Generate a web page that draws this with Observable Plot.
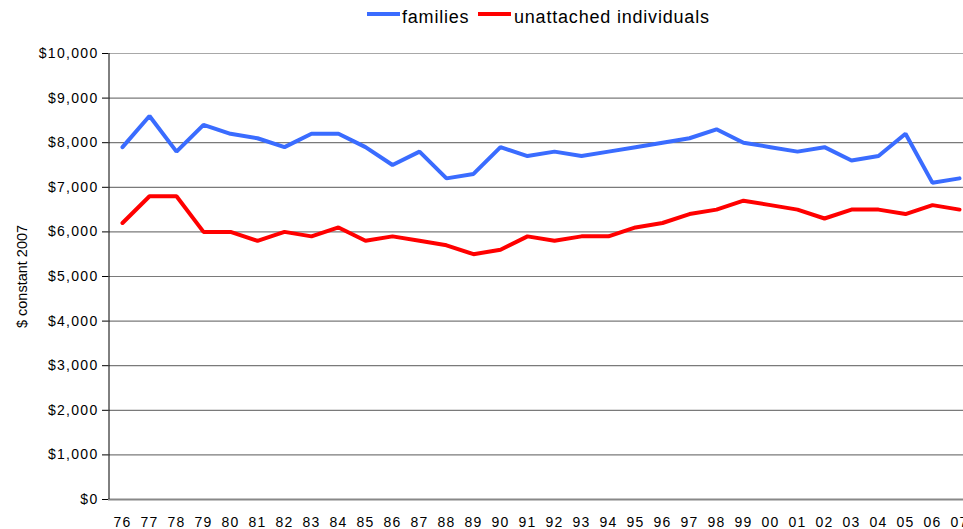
<!DOCTYPE html>
<html>
<head>
<meta charset="utf-8">
<script src="https://cdn.jsdelivr.net/npm/d3@7"></script>
<script src="https://cdn.jsdelivr.net/npm/@observablehq/plot@0.6"></script>
<style>
  html, body { margin: 0; padding: 0; background: #fff; overflow: hidden; width: 963px; height: 529px; }
  body { font-family: "Liberation Sans", Arial, sans-serif; }
  #legend { position: relative; height: 30px; width: 963px; }
  #chart { width: 975px; }
  #chart svg { max-width: none !important; display: block; }
  .sw { position: absolute; top: 12.3px; width: 33px; height: 3.6px; }
  .lt { position: absolute; top: 7.5px; font-size: 18px; line-height: 18px; letter-spacing: 0.8px; color: #000; white-space: nowrap; }
  #chart svg g[aria-label="y-axis tick label"] text { letter-spacing: 1.3px; }
  #chart svg g[aria-label="x-axis tick label"] text { letter-spacing: 1.3px; }
</style>
</head>
<body>
<div id="legend">
  <span class="sw" style="left:367px;background:#3a6cff"></span><span class="lt" style="left:402px">families</span>
  <span class="sw" style="left:478px;background:#ff0000"></span><span class="lt" style="left:514px">unattached individuals</span>
</div>
<div id="chart"></div>
<script>
const years = ["76","77","78","79","80","81","82","83","84","85","86","87","88","89","90","91","92","93","94","95","96","97","98","99","00","01","02","03","04","05","06","07"];
const families = [7900,8600,7800,8400,8200,8100,7900,8200,8200,7900,7500,7800,7200,7300,7900,7700,7800,7700,7800,7900,8000,8100,8300,8000,7900,7800,7900,7600,7700,8200,7100,7200];
const unattached = [6200,6800,6800,6000,6000,5800,6000,5900,6100,5800,5900,5800,5700,5500,5600,5900,5800,5900,5900,6100,6200,6400,6500,6700,6600,6500,6300,6500,6500,6400,6600,6500];
const yTicks = [0,1000,2000,3000,4000,5000,6000,7000,8000,9000,10000];

const famData = years.map((y, i) => ({year: y, value: families[i]}));
const unaData = years.map((y, i) => ({year: y, value: unattached[i]}));

const chart = Plot.plot({
  width: 975,
  height: 499,
  marginLeft: 108,
  marginRight: 3,
  marginTop: 23,
  marginBottom: 30,
  style: {fontFamily: "'Liberation Sans', Arial, sans-serif", fontSize: "14px", color: "#000", background: "#fff"},
  x: {type: "point", domain: years, padding: 0.5},
  y: {domain: [0, 10000]},
  marks: [
    Plot.ruleY(yTicks.filter(d => d > 0 && d < 10000), {stroke: "#7a7a7a", strokeWidth: 1.2}),
    Plot.ruleY([10000], {stroke: "#a8a8a8", strokeWidth: 1.2}),
    Plot.ruleY([0], {stroke: "#888", strokeWidth: 2}),
    Plot.ruleX([years[0]], {dx: -13.5, stroke: "#000", strokeWidth: 1}),
    Plot.axisY({ticks: yTicks, tickFormat: d => "$" + d3.format(",")(d), tickSize: 6, tickPadding: 4, label: null, fontSize: 14}),
    Plot.axisX({tickSize: 0, tickPadding: 18, label: null, fontSize: 14}),
    Plot.text(["$ constant 2007"], {frameAnchor: "left", textAnchor: "middle", dx: -86, rotate: -90, fontSize: 14.5}),
    Plot.line(unaData, {x: "year", y: "value", stroke: "#ff0000", strokeWidth: 4, strokeLinejoin: "miter"}),
    Plot.line(famData, {x: "year", y: "value", stroke: "#3a6cff", strokeWidth: 4, strokeLinejoin: "miter"})
  ]
});
document.getElementById("chart").appendChild(chart);
</script>
</body>
</html>
